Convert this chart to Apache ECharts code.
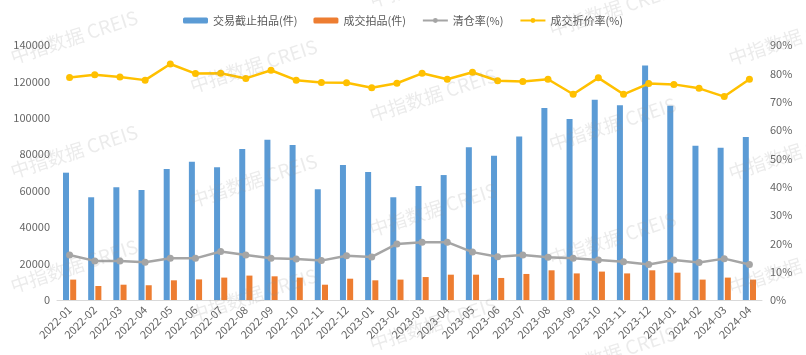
<!DOCTYPE html>
<html>
<head>
<meta charset="utf-8">
<script src="https://cdn.jsdelivr.net/npm/echarts@6/dist/echarts.min.js"></script>
<style>html,body{margin:0;padding:0;background:#fff}#c{width:806px;height:355px}</style>
</head>
<body>
<div id="c"></div>
<script>
const categories = ['2022-01','2022-02','2022-03','2022-04','2022-05','2022-06','2022-07','2022-08','2022-09','2022-10','2022-11','2022-12','2023-01','2023-02','2023-03','2023-04','2023-05','2023-06','2023-07','2023-08','2023-09','2023-10','2023-11','2023-12','2024-01','2024-02','2024-03','2024-04'];
const deadlineLots = [69900,56400,61900,60400,71900,75900,72900,82900,88000,85100,60800,74100,70300,56400,62600,68600,83800,79200,89700,105400,99400,110000,106900,128700,106700,84700,83600,89500];
const soldLots = [11200,7700,8400,8100,10800,11300,12300,13400,13000,12300,8400,11700,10800,11200,12600,13900,13900,12100,14300,16300,14600,15600,14600,16300,15000,11200,12300,11200];
const clearanceRate = [15.9,13.8,13.8,13.3,14.7,14.7,17.1,15.9,14.7,14.5,13.9,15.6,15.2,19.8,20.4,20.4,16.9,15.3,15.9,15.1,14.7,14.1,13.5,12.5,14.1,13.2,14.6,12.5];
const discountRate = [78.5,79.5,78.7,77.6,83.3,79.9,80.0,78.2,81.1,77.6,76.8,76.7,74.9,76.5,80.0,77.9,80.4,77.4,77.1,77.9,72.6,78.4,72.6,76.4,76.1,74.7,71.8,77.9];
const seriesNames = ['交易截止拍品(件)','成交拍品(件)','清仓率(%)','成交折价率(%)'];
const watermarkText = '中指数据 CREIS';

const font = '"Noto Sans CJK SC", "Liberation Sans", sans-serif';
const labelColor = '#666666';

const marks = [];
for (let i = 0; i < 5; i++) {
  for (let j = -1; j < 4; j++) {
    const xc = 74 + 179.5 * i;
    const yc = 37 + 29 * i + 114.5 * j;
    if (yc < -30 || yc > 390) continue;
    marks.push({
      type: 'text', x: xc, y: yc, rotation: 18 * Math.PI / 180, z: 100, silent: true,
      style: { text: watermarkText, fill: 'rgba(150,150,150,0.19)', fontSize: 19, fontFamily: font,
               align: 'center', verticalAlign: 'middle' }
    });
  }
}

const chart = echarts.init(document.getElementById('c'));
chart.setOption({
  animation: false,
  backgroundColor: '#fff',
  textStyle: { fontFamily: font },
  legend: {
    top: 10, left: 'center', itemGap: 16, itemWidth: 25, itemHeight: 6,
    textStyle: { fontSize: 11, color: '#595959', fontFamily: font },
    data: seriesNames
  },
  grid: { left: 57, right: 44, top: 45, bottom: 55, containLabel: false },
  xAxis: {
    type: 'category', data: categories,
    axisLine: { lineStyle: { color: '#D9D9D9' } },
    axisTick: { show: false },
    axisLabel: { rotate: 45, fontSize: 11, color: labelColor, interval: 0, margin: 8 }
  },
  yAxis: [
    { type: 'value', min: 0, max: 140000, interval: 20000,
      axisLine: { show: false }, axisTick: { show: false }, splitLine: { show: false },
      axisLabel: { fontSize: 11, color: labelColor, margin: 7, formatter: function (v) { return String(v); } } },
    { type: 'value', min: 0, max: 90, interval: 10,
      axisLine: { show: false }, axisTick: { show: false }, splitLine: { show: false },
      axisLabel: { fontSize: 11, color: labelColor, margin: 8, formatter: '{value}%' } }
  ],
  series: [
    { name: seriesNames[0], type: 'bar', data: deadlineLots, barWidth: 6, barGap: '20%',
      itemStyle: { color: '#5B9BD5' } },
    { name: seriesNames[1], type: 'bar', data: soldLots, barWidth: 6, barGap: '20%',
      itemStyle: { color: '#ED7D31' } },
    { name: seriesNames[2], type: 'line', yAxisIndex: 1, data: clearanceRate,
      symbol: 'circle', symbolSize: 7, lineStyle: { color: '#A5A5A5', width: 2.5 },
      itemStyle: { color: '#A5A5A5' } },
    { name: seriesNames[3], type: 'line', yAxisIndex: 1, data: discountRate,
      symbol: 'circle', symbolSize: 7, lineStyle: { color: '#FFC000', width: 2.5 },
      itemStyle: { color: '#FFC000' } }
  ],
  graphic: marks
});
</script>
</body>
</html>
